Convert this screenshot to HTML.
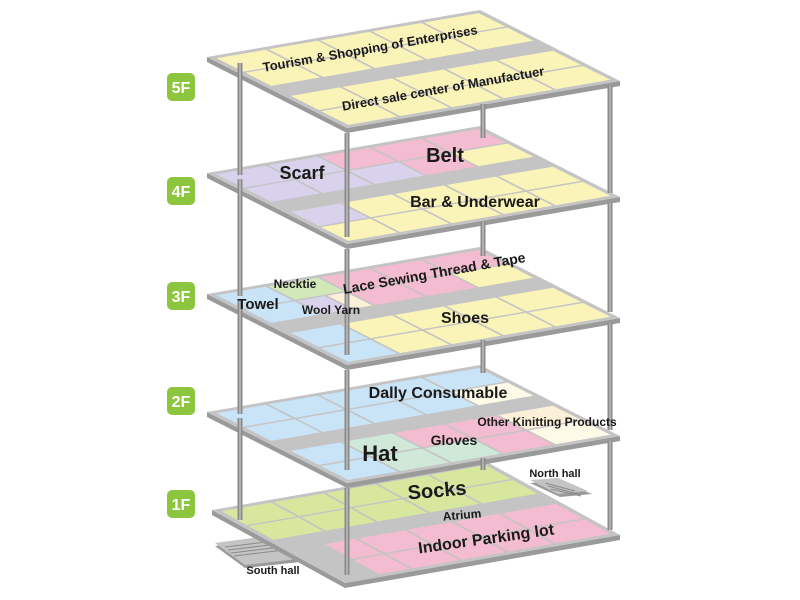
<!DOCTYPE html>
<html><head><meta charset="utf-8"><style>
body{margin:0;background:#fff;width:800px;height:600px;overflow:hidden}
svg{display:block}
text{font-family:"Liberation Sans",Arial,sans-serif;font-weight:bold;fill:#1a1a1a}
.y{fill:#fbf4b8}.p{fill:#f4bcd0}.l{fill:#d9d2ec}.b{fill:#c9e3f7}.m{fill:#cfe8d8}.g{fill:#d7e89e}.c{fill:#fdf0d8}.w{fill:#fdfbe8}.gr{fill:#d2e8b8}
</style></head><body>
<svg width="800" height="600" viewBox="0 0 800 600">
<defs>
<g id="grid"><rect x="0" y="0" width="100" height="100" fill="#c4c4c4"/></g>
</defs>

<g fill="#8cc63f">
<rect x="167" y="73" width="28" height="28" rx="5"/>
<rect x="167" y="177" width="28" height="28" rx="5"/>
<rect x="167" y="282" width="28" height="28" rx="5"/>
<rect x="167" y="387" width="28" height="28" rx="5"/>
<rect x="167" y="490" width="28" height="28" rx="5"/>
</g>
<g font-size="16" text-anchor="middle">
<text x="181" y="93" style="fill:#fff">5F</text>
<text x="181" y="197" style="fill:#fff">4F</text>
<text x="181" y="302" style="fill:#fff">3F</text>
<text x="181" y="407" style="fill:#fff">2F</text>
<text x="181" y="510" style="fill:#fff">1F</text>
</g>

<g>
<polygon points="530,483 560,481 592,494 560,497" fill="#9a9a9a"/>
<polygon points="530,480 558,478 588,491 558,494" fill="#c4c4c4"/>
<g stroke="#8a8a8a" stroke-width="1"><line x1="545" y1="483" x2="575" y2="491"/><line x1="548" y1="486" x2="578" y2="494"/><line x1="551" y1="489" x2="581" y2="496"/></g>
<polygon points="215,546 260,540 300,562 245,568" fill="#9a9a9a"/>
<polygon points="215,543 260,537 298,559 245,565" fill="#c4c4c4"/>
<g stroke="#8a8a8a" stroke-width="1"><line x1="225" y1="547" x2="275" y2="541"/><line x1="228" y1="550" x2="278" y2="544"/><line x1="231" y1="553" x2="281" y2="547"/><line x1="234" y1="556" x2="284" y2="550"/></g>
</g>

<!-- 1F -->
<polygon points="212,510 212,515 345,588 620,540 620,535 345,583" fill="#9a9a9a"/>
<g transform="matrix(2.75,-0.48,1.33,0.73,212,510)">
<use href="#grid"/>
<rect class="g" x="2" y="3" width="18" height="19"/><rect class="g" x="21" y="3" width="18" height="19"/><rect class="g" x="40" y="3" width="18" height="19"/><rect class="g" x="59" y="3" width="18" height="19"/><rect class="g" x="78" y="3" width="20" height="19"/>
<rect class="g" x="2" y="23.5" width="18" height="18.5"/><rect class="g" x="21" y="23.5" width="18" height="18.5"/><rect class="g" x="40" y="23.5" width="18" height="18.5"/><rect class="g" x="59" y="23.5" width="18" height="18.5"/><rect class="g" x="78" y="23.5" width="20" height="18.5"/>
<rect class="p" x="14" y="56" width="11" height="20"/><rect class="p" x="26" y="56" width="17" height="20"/><rect class="p" x="44" y="56" width="16" height="20"/><rect class="p" x="61" y="56" width="16" height="20"/><rect class="p" x="78" y="56" width="20" height="20"/>
<rect class="p" x="14" y="77.5" width="11" height="19.5"/><rect class="p" x="26" y="77.5" width="17" height="19.5"/><rect class="p" x="44" y="77.5" width="16" height="19.5"/><rect class="p" x="61" y="77.5" width="16" height="19.5"/><rect class="p" x="78" y="77.5" width="20" height="19.5"/>
</g>

<!-- 2F -->
<polygon points="207,412 207,417 347,488 620,441 620,436 347,483" fill="#9a9a9a"/>
<g transform="matrix(2.73,-0.47,1.40,0.71,207,412)">
<use href="#grid"/>
<rect class="b" x="2" y="3" width="18" height="19"/><rect class="b" x="21" y="3" width="18" height="19"/><rect class="b" x="40" y="3" width="18" height="19"/><rect class="b" x="59" y="3" width="18" height="19"/><rect class="b" x="78" y="3" width="20" height="19"/>
<rect class="b" x="2" y="23.5" width="18" height="18.5"/><rect class="b" x="21" y="23.5" width="18" height="18.5"/><rect class="b" x="40" y="23.5" width="18" height="18.5"/><rect class="b" x="59" y="23.5" width="18" height="18.5"/><rect class="w" x="78" y="23.5" width="20" height="18.5"/>
<rect class="b" x="2" y="56" width="18" height="20"/><rect class="m" x="21" y="56" width="18" height="20"/><rect class="p" x="40" y="56" width="18" height="20"/><rect class="p" x="59" y="56" width="18" height="20"/><rect class="c" x="78" y="56" width="20" height="20"/>
<rect class="b" x="2" y="77.5" width="18" height="19.5"/><rect class="m" x="21" y="77.5" width="18" height="19.5"/><rect class="m" x="40" y="77.5" width="18" height="19.5"/><rect class="p" x="59" y="77.5" width="18" height="19.5"/><rect class="w" x="78" y="77.5" width="20" height="19.5"/>
</g>

<!-- 3F -->
<polygon points="207,294 207,299 347,370 620,323 620,318 347,365" fill="#9a9a9a"/>
<g transform="matrix(2.73,-0.47,1.40,0.71,207,294)">
<use href="#grid"/>
<rect class="b" x="2" y="3" width="18" height="19"/><rect class="gr" x="21" y="3" width="18" height="19"/><rect class="p" x="40" y="3" width="18" height="19"/><rect class="p" x="59" y="3" width="18" height="19"/><rect class="p" x="78" y="3" width="20" height="19"/>
<rect class="b" x="2" y="23.5" width="18" height="18.5"/><rect class="l" x="21" y="23.5" width="10" height="18.5"/><rect class="c" x="32" y="23.5" width="7" height="18.5"/><rect class="p" x="40" y="23.5" width="18" height="18.5"/><rect class="p" x="59" y="23.5" width="18" height="18.5"/><rect class="y" x="78" y="23.5" width="20" height="18.5"/>
<rect class="b" x="2" y="56" width="18" height="20"/><rect class="y" x="21" y="56" width="18" height="20"/><rect class="y" x="40" y="56" width="18" height="20"/><rect class="y" x="59" y="56" width="18" height="20"/><rect class="y" x="78" y="56" width="20" height="20"/>
<rect class="b" x="2" y="77.5" width="18" height="19.5"/><rect class="y" x="21" y="77.5" width="18" height="19.5"/><rect class="y" x="40" y="77.5" width="18" height="19.5"/><rect class="y" x="59" y="77.5" width="18" height="19.5"/><rect class="y" x="78" y="77.5" width="20" height="19.5"/>
</g>

<!-- 4F -->
<polygon points="207,173 207,178 347,249 620,202 620,197 347,244" fill="#9a9a9a"/>
<g transform="matrix(2.73,-0.47,1.40,0.71,207,173)">
<use href="#grid"/>
<rect class="l" x="2" y="3" width="18" height="19"/><rect class="l" x="21" y="3" width="18" height="19"/><rect class="p" x="40" y="3" width="18" height="19"/><rect class="p" x="59" y="3" width="18" height="19"/><rect class="p" x="78" y="3" width="20" height="19"/>
<rect class="l" x="2" y="23.5" width="18" height="18.5"/><rect class="l" x="21" y="23.5" width="18" height="18.5"/><rect class="l" x="40" y="23.5" width="18" height="18.5"/><rect class="p" x="59" y="23.5" width="18" height="18.5"/><rect class="y" x="78" y="23.5" width="20" height="18.5"/>
<rect class="l" x="2" y="56" width="18" height="20"/><rect class="y" x="21" y="56" width="18" height="20"/><rect class="y" x="40" y="56" width="18" height="20"/><rect class="y" x="59" y="56" width="18" height="20"/><rect class="y" x="78" y="56" width="20" height="20"/>
<rect class="y" x="2" y="77.5" width="18" height="19.5"/><rect class="y" x="21" y="77.5" width="18" height="19.5"/><rect class="y" x="40" y="77.5" width="18" height="19.5"/><rect class="y" x="59" y="77.5" width="18" height="19.5"/><rect class="y" x="78" y="77.5" width="20" height="19.5"/>
</g>

<!-- 5F -->
<polygon points="207,57 207,62 347,133 620,86 620,81 347,128" fill="#9a9a9a"/>
<g transform="matrix(2.73,-0.47,1.40,0.71,207,57)">
<use href="#grid"/>
<rect class="y" x="2" y="3" width="18" height="19"/><rect class="y" x="21" y="3" width="18" height="19"/><rect class="y" x="40" y="3" width="18" height="19"/><rect class="y" x="59" y="3" width="18" height="19"/><rect class="y" x="78" y="3" width="20" height="19"/>
<rect class="y" x="2" y="23.5" width="18" height="18.5"/><rect class="y" x="21" y="23.5" width="18" height="18.5"/><rect class="y" x="40" y="23.5" width="18" height="18.5"/><rect class="y" x="59" y="23.5" width="18" height="18.5"/><rect class="y" x="78" y="23.5" width="20" height="18.5"/>
<rect class="y" x="2" y="56" width="18" height="20"/><rect class="y" x="21" y="56" width="18" height="20"/><rect class="y" x="40" y="56" width="18" height="20"/><rect class="y" x="59" y="56" width="18" height="20"/><rect class="y" x="78" y="56" width="20" height="20"/>
<rect class="y" x="2" y="77.5" width="18" height="19.5"/><rect class="y" x="21" y="77.5" width="18" height="19.5"/><rect class="y" x="40" y="77.5" width="18" height="19.5"/><rect class="y" x="59" y="77.5" width="18" height="19.5"/><rect class="y" x="78" y="77.5" width="20" height="19.5"/>
</g>

<g stroke="#8a8a8a" stroke-width="5">
<path d="M240 63V175M240 179V296M240 300V414M240 418V520"/>
<path d="M347 133V237M347 249V355M347 370V470M347 488V575"/>
<path d="M483 104V138M483 222V256M483 340V373M483 458V470"/>
<path d="M610 86V193M610 203V312M610 323V430M610 441V530"/>
</g>
<g stroke="#bdbdbd" stroke-width="1.5">
<path d="M240 63V175M240 179V296M240 300V414M240 418V520"/>
<path d="M347 133V237M347 249V355M347 370V470M347 488V575"/>
<path d="M483 104V138M483 222V256M483 340V373M483 458V470"/>
<path d="M610 86V193M610 203V312M610 323V430M610 441V530"/>
</g>

<g text-anchor="middle">
<text x="370" y="53" font-size="13" transform="rotate(-10 370 48)">Tourism &amp; Shopping of Enterprises</text>
<text x="443" y="93" font-size="13" transform="rotate(-10 443 88)">Direct sale center of Manufactuer</text>
<text x="445" y="162" font-size="20">Belt</text>
<text x="302" y="179" font-size="18">Scarf</text>
<text x="475" y="207" font-size="16">Bar &amp; Underwear</text>
<text x="295" y="288" font-size="12">Necktie</text>
<text x="434" y="278" font-size="14" transform="rotate(-10 434 272)">Lace Sewing Thread &amp; Tape</text>
<text x="258" y="309" font-size="15">Towel</text>
<text x="331" y="314" font-size="12">Wool Yarn</text>
<text x="465" y="323" font-size="16">Shoes</text>
<text x="438" y="398" font-size="16">Dally Consumable</text>
<text x="547" y="426" font-size="12">Other Kinitting Products</text>
<text x="454" y="445" font-size="14">Gloves</text>
<text x="380" y="461" font-size="22">Hat</text>
<text x="555" y="477" font-size="11">North hall</text>
<text x="437" y="497" font-size="20" transform="rotate(-5 437 490)">Socks</text>
<text x="462" y="519" font-size="12" transform="rotate(-5 462 515)">Atrium</text>
<text x="486" y="544" font-size="16" transform="rotate(-8 486 538)">Indoor Parking lot</text>
<text x="273" y="574" font-size="11">South hall</text>
</g>
</svg>
</body></html>
